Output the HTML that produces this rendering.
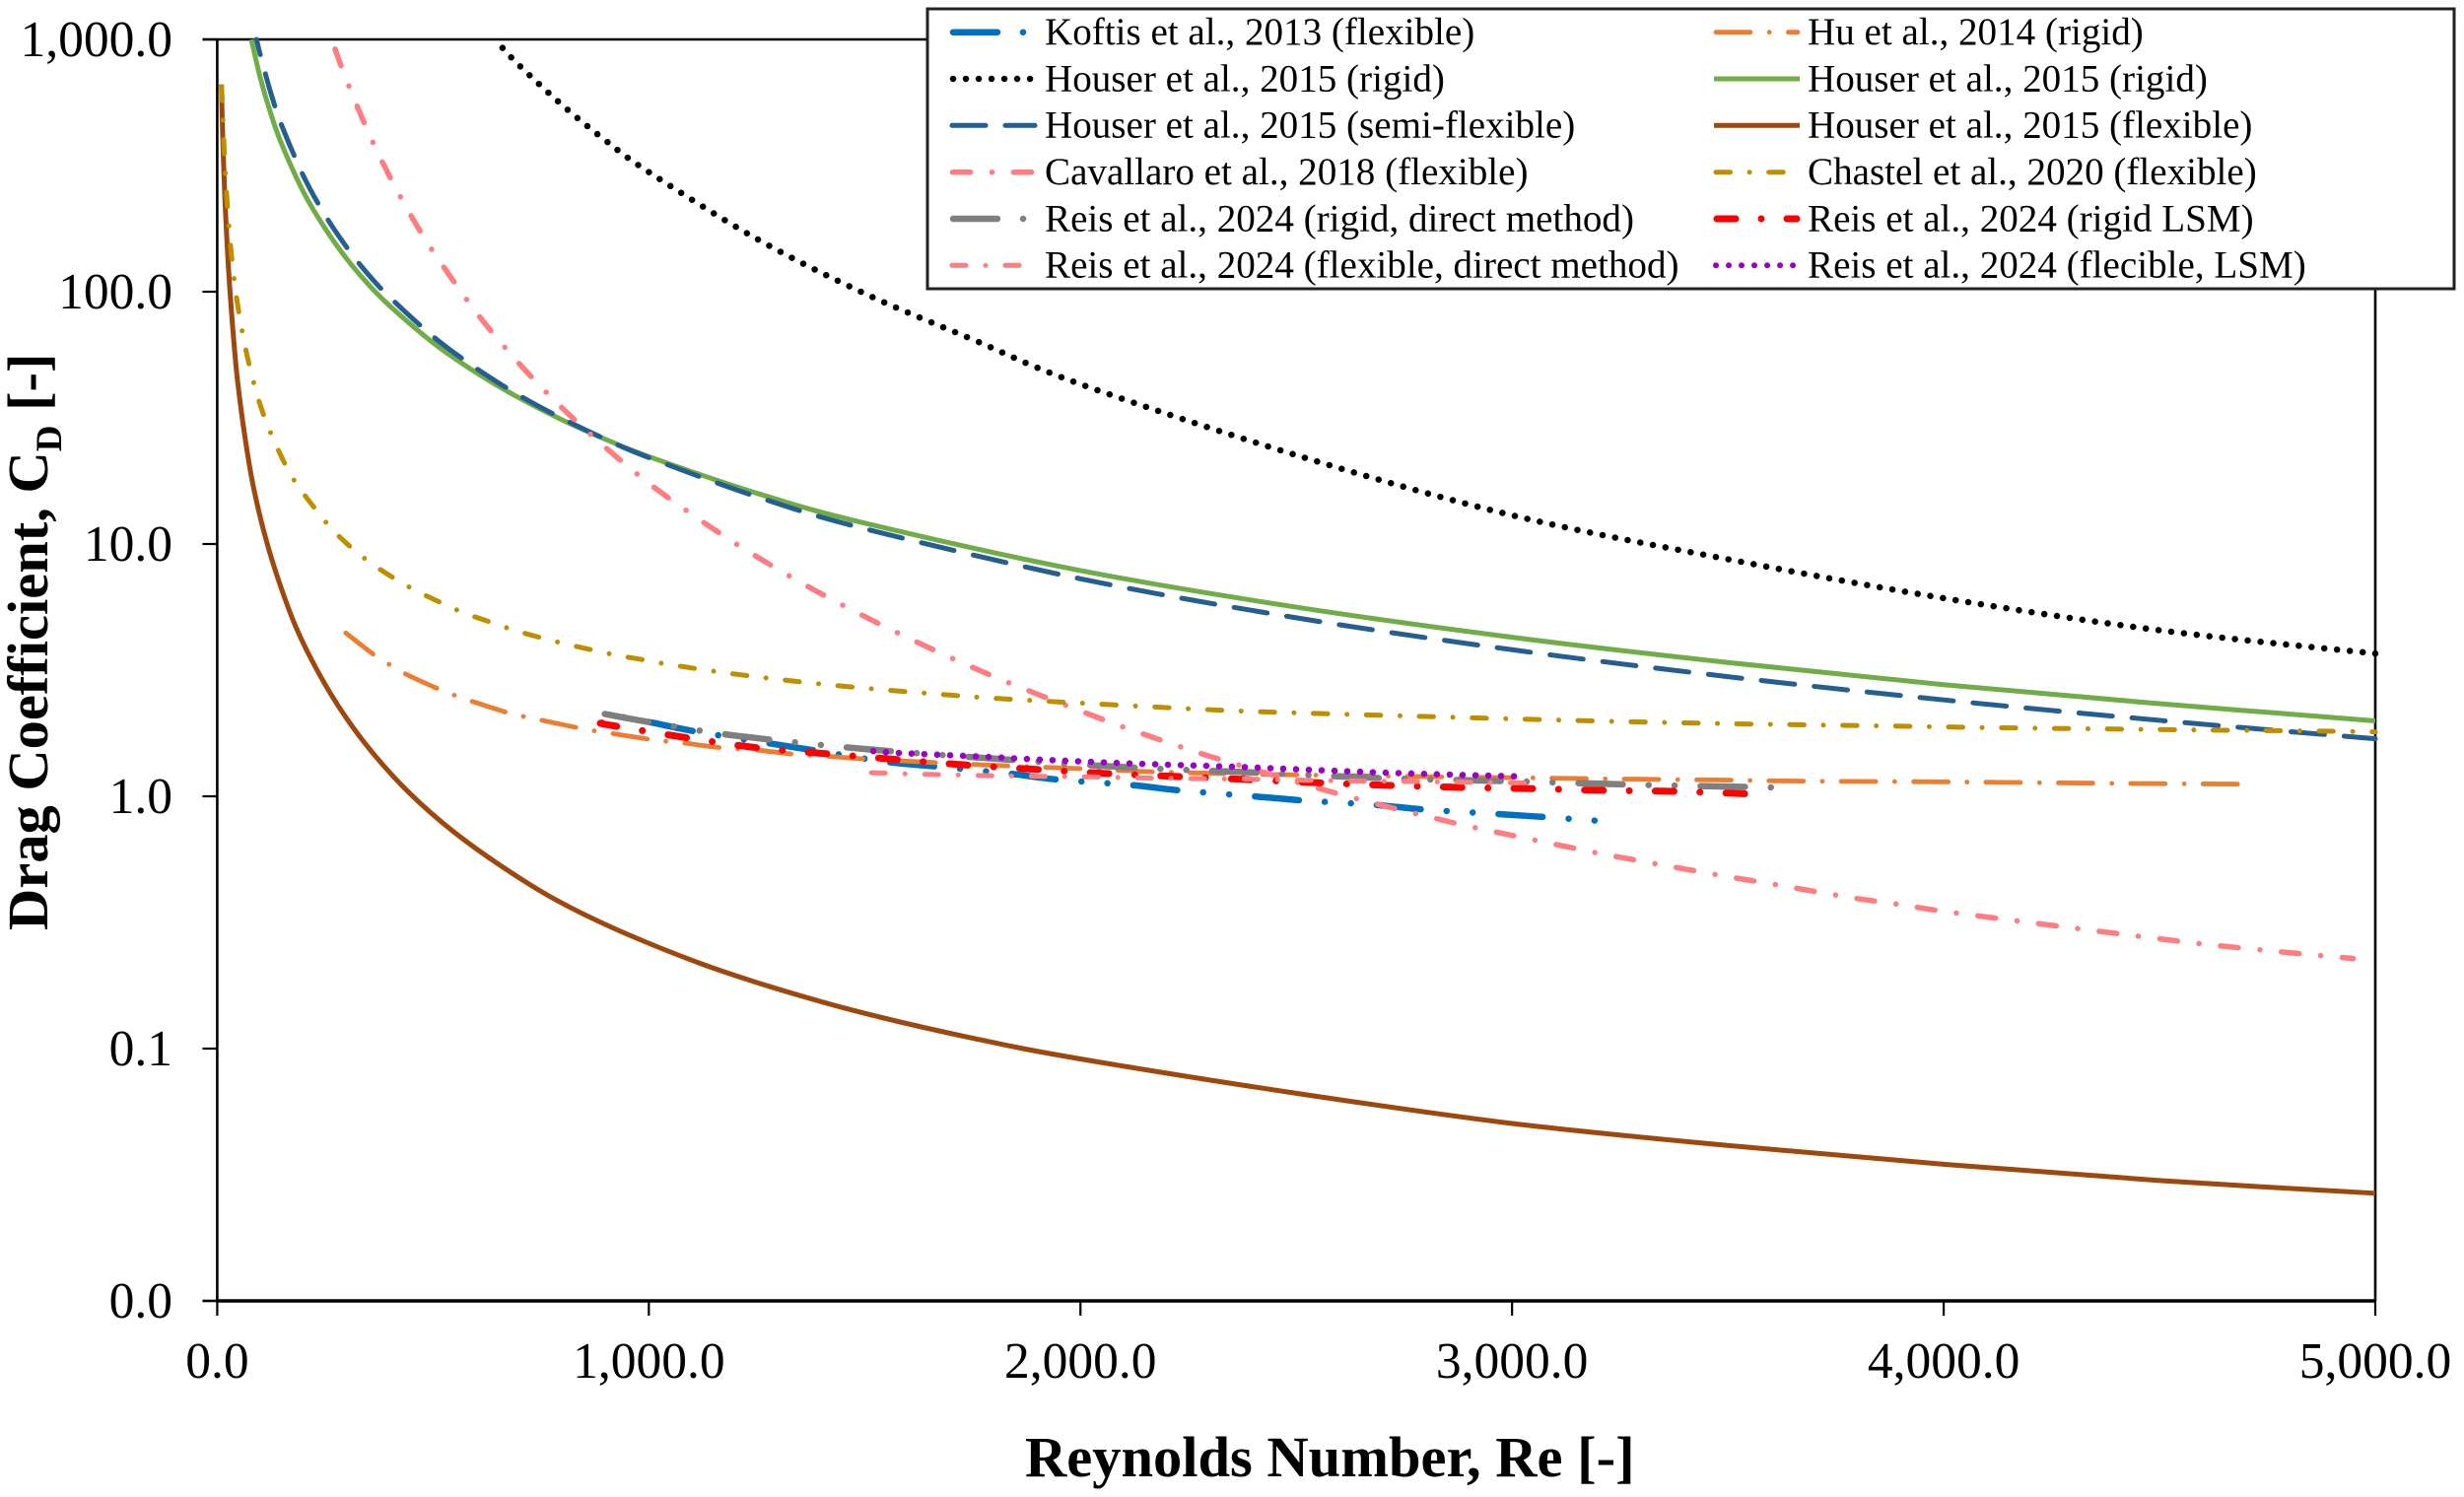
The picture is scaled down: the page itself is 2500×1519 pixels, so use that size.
<!DOCTYPE html>
<html lang="en">
<head>
<meta charset="utf-8">
<title>Drag Coefficient vs Reynolds Number</title>
<style>
html,body{margin:0;padding:0;background:#fff;}
svg{display:block;}
text{font-family:"Liberation Serif","Times New Roman",serif;fill:#000;}
.tick{font-size:51.5px;}
.title{font-size:58.5px;font-weight:bold;}
.leg{font-size:39.1px;}
</style>
</head>
<body>
<svg id="chart" xmlns="http://www.w3.org/2000/svg" width="2500" height="1519" viewBox="0 0 2500 1519">
  <rect x="0" y="0" width="2500" height="1519" fill="#fff"/>
  <g id="axes" stroke="#000" fill="none"></g>
  <g id="tick-labels"></g>

  <g fill="none" stroke-linecap="round" stroke-linejoin="round">
    <path id="s-koftis" stroke="#0070C0" stroke-width="6.5" stroke-dasharray="45 26.3 0.01 26.3 0.01 26.3" stroke-dashoffset="79"/>
    <path id="s-hu" stroke="#ED7D31" stroke-width="4.8" stroke-dasharray="35 19.2 0.01 19.2"/>
    <path id="s-houserBlack" stroke="#000" stroke-width="6.5" stroke-dasharray="0.01 13"/>
    <path id="s-houserGreen" stroke="#70AD47" stroke-width="5" stroke-linecap="butt"/>
    <path id="s-houserSemi" stroke="#255E91" stroke-width="5" stroke-dasharray="34 20" stroke-dashoffset="18"/>
    <path id="s-houserBrown" stroke="#9E480E" stroke-width="5" stroke-linecap="butt"/>
    <path id="s-cavallaro" stroke="#FF7C80" stroke-width="5.5" stroke-dasharray="18 22 0.01 22"/>
    <path id="s-chastel" stroke="#BF8F00" stroke-width="5" stroke-dasharray="14.5 19.6 0.01 19.6"/>
    <path id="s-reisRigid" stroke="#7F7F7F" stroke-width="6.5" stroke-dasharray="45 26.3 0.01 26.3 0.01 26.3"/>
    <path id="s-reisRigidLsm" stroke="#FF0000" stroke-width="7" stroke-dasharray="19 26.35 0.01 26.35"/>
    <path id="s-reisFlex" stroke="#FF7C80" stroke-width="5" stroke-dasharray="14 20 0.01 20"/>
    <path id="s-reisFlexLsm" stroke="#9900CC" stroke-width="6.5" stroke-dasharray="0.01 13"/>
  </g>

  <text class="title" x="1040" y="1498">Reynolds Number, Re [-]</text>
  <text class="title" transform="translate(48,944) rotate(-90)" x="0" y="0">Drag Coefficient, C<tspan font-size="37" dy="14">D</tspan><tspan dy="-14"> [-]</tspan></text>

  <g>
    <rect x="941" y="9" width="1549" height="284" fill="#fff" stroke="#222" stroke-width="3"/>
    <g fill="none" stroke-linecap="round">
      <line x1="967" x2="1047" y1="32.7" y2="32.7" stroke="#0070C0" stroke-width="6.5" stroke-dasharray="45 26 0.01 26 0.01 26"/>
      <line x1="967" x2="1047" y1="80" y2="80" stroke="#000" stroke-width="6.5" stroke-dasharray="0.01 13"/>
      <line x1="966" x2="1050" y1="127.3" y2="127.3" stroke="#255E91" stroke-width="5" stroke-dasharray="34 20"/>
      <line x1="966.5" x2="1047" y1="174.7" y2="174.7" stroke="#FF7C80" stroke-width="5.5" stroke-dasharray="18 22 0.01 22"/>
      <line x1="967" x2="1047" y1="222" y2="222" stroke="#7F7F7F" stroke-width="6.5" stroke-dasharray="45 26 0.01 26 0.01 26"/>
      <line x1="966" x2="1037" y1="269.3" y2="269.3" stroke="#FF7C80" stroke-width="5" stroke-dasharray="14 20 0.01 20"/>
      <line x1="1741" x2="1824" y1="32.7" y2="32.7" stroke="#ED7D31" stroke-width="4.8" stroke-dasharray="35 19.2 0.01 19.2"/>
      <line x1="1739" x2="1826" y1="80" y2="80" stroke="#70AD47" stroke-width="5" stroke-linecap="butt"/>
      <line x1="1739" x2="1826" y1="127.3" y2="127.3" stroke="#9E480E" stroke-width="5" stroke-linecap="butt"/>
      <line x1="1741" x2="1811" y1="174.7" y2="174.7" stroke="#BF8F00" stroke-width="5" stroke-dasharray="14.5 19.6 0.01 19.6"/>
      <line x1="1742" x2="1823" y1="222" y2="222" stroke="#FF0000" stroke-width="7" stroke-dasharray="19 26 0.01 26"/>
      <line x1="1741" x2="1824" y1="269.3" y2="269.3" stroke="#9900CC" stroke-width="6" stroke-dasharray="0.01 13"/>
    </g>
    <text class="leg" x="1060" y="45">Koftis et al., 2013 (flexible)</text>
    <text class="leg" x="1060" y="92.3">Houser et al., 2015 (rigid)</text>
    <text class="leg" x="1060" y="139.6">Houser et al., 2015 (semi-flexible)</text>
    <text class="leg" x="1060" y="187">Cavallaro et al., 2018 (flexible)</text>
    <text class="leg" x="1060" y="234.3">Reis et al., 2024 (rigid, direct method)</text>
    <text class="leg" x="1060" y="281.6">Reis et al., 2024 (flexible, direct method)</text>
    <text class="leg" x="1834" y="45">Hu et al., 2014 (rigid)</text>
    <text class="leg" x="1834" y="92.3">Houser et al., 2015 (rigid)</text>
    <text class="leg" x="1834" y="139.6">Houser et al., 2015 (flexible)</text>
    <text class="leg" x="1834" y="187">Chastel et al., 2020 (flexible)</text>
    <text class="leg" x="1834" y="234.3">Reis et al., 2024 (rigid LSM)</text>
    <text class="leg" x="1834" y="281.6">Reis et al., 2024 (flecible, LSM)</text>
  </g>
</svg>
<script>
const xTickValues = [0, 1000, 2000, 3000, 4000, 5000];
const xTickLabels = ["0.0", "1,000.0", "2,000.0", "3,000.0", "4,000.0", "5,000.0"];
const yTickValues = [1000, 100, 10, 1, 0.1, 0.01];
const yTickLabels = ["1,000.0", "100.0", "10.0", "1.0", "0.1", "0.0"];

const koftisRe = [900,1007,1106,1275,1387,1549,1671,1835,1947,2120,2231,2400,2518,2682,2801,2965,3082,3198];
const koftisCd = [2.12,1.96,1.81,1.625,1.517,1.37,1.31,1.23,1.165,1.107,1.055,1.0,0.962,0.925,0.885,0.851,0.826,0.80];

const huRe = [298,363,399,437,511,551,590,671,711,753,835,876,918,999,1042,1083,1168,1249,1334,1417,1502,1671,1840,2006,2173,2340,2510,2847,3180,3515,3685,4020,4400,4700];
const huCd = [4.44,3.64,3.33,3.05,2.67,2.51,2.38,2.15,2.07,2.0,1.87,1.815,1.77,1.685,1.65,1.625,1.558,1.526,1.47,1.44,1.407,1.358,1.318,1.286,1.25,1.23,1.215,1.194,1.175,1.158,1.148,1.14,1.125,1.117];

const houserBlackRe = [661,700,800,900,1000,1250,1500,1750,2000,2500,3000,3500,4000,4500,5000];
const houserBlackCd = [925,788,548,397,298,162,98.4,64.7,43,22.5,13,8.7,6.1,4.55,3.68];

const houserGreenRe = [79,100,125,150,200,250,300,350,400,500,600,700,800,900,1000,1250,1500,2000,2500,3000,3500,4000,4500,5000];
const houserGreenCd = [1000,702,502,382,248,178,135,107,87.8,62.8,47.8,37.9,31.0,26.0,22.2,15.9,12.1,7.85,5.62,4.27,3.39,2.77,2.33,1.99];

const houserSemiRe = [91,100,125,150,200,250,300,350,400,500,600,700,800,900,1000,1250,1500,2000,2500,3000,3500,4000,4500,5000];
const houserSemiCd = [1000,866,607,453,287,201,150,117,95,66.5,49.7,38.8,31.4,26,22,15.4,11.5,7.28,5.1,3.81,2.98,2.41,2.0,1.69];

const houserBrownRe = [9.6,12,15,20,30,47,75,102,136,182,235,296,364,448,547,661,783,928,1118,1300,1500,1750,2000,2500,3000,3500,4000,4500,5000];
const houserBrownCd = [663,456,313,193,98,44.5,20.3,12.3,7.72,4.7,3.08,2.08,1.46,1.02,0.725,0.525,0.39,0.295,0.218,0.172,0.138,0.11,0.091,0.0665,0.0505,0.0413,0.0348,0.03,0.0267];

const cavallaroRe = [273,300,350,400,450,500,600,700,800,900,1000,1100,1200,1300,1400,1500,1600,1700,1800,1900,2000,2100,2200,2300,2400,2500,2600,2700,2800,2900,3000,3100,3200,3300,3400,3500,3600,3700,3800,3900,4000,4200,4400,4600,4800,4949];
const cavallaroCd = [915,686,429,285,199,144.5,82.9,51.8,34.5,24.1,17.4,13.1,10.07,7.92,6.34,5.16,4.25,3.54,2.98,2.54,2.18,1.88,1.64,1.44,1.28,1.14,1.02,0.92,0.835,0.76,0.70,0.645,0.595,0.553,0.515,0.48,0.45,0.42,0.393,0.372,0.35,0.316,0.286,0.26,0.24,0.2275];

const chastelRe = [10,11.4,16.6,23.7,34,50,74.5,108,156,187,224,262,307,354,406,459,514,571,629,687,746,806,867,926,986,1047,1169,1291,1413,1536,1658,1778,1904,2149,2395,2764,3134,3503,3872,4118,4364,4610,4855,5000];
const chastelCd = [650,583,350,217,134,83,51,32.3,20.9,17.0,14,11.65,9.8,8.45,7.38,6.55,5.9,5.34,4.93,4.56,4.27,4.02,3.81,3.62,3.48,3.33,3.1,2.92,2.77,2.65,2.55,2.46,2.39,2.27,2.17,2.08,2.0,1.94,1.90,1.87,1.85,1.83,1.815,1.80];

const reisRigidRe = [898,1007,1200,1500,1800,2100,2400,2700,3000,3300,3610];
const reisRigidCd = [2.12,1.96,1.74,1.54,1.41,1.305,1.243,1.18,1.147,1.11,1.084];

const reisRigidLsmRe = [892,905,1080,1247,1410,1572,1736,1899,2064,2228,2392,2557,2721,2885,3048,3212,3377,3565];
const reisRigidLsmCd = [1.95,1.92,1.715,1.56,1.475,1.40,1.33,1.278,1.23,1.197,1.164,1.13,1.104,1.084,1.072,1.055,1.046,1.02];

const reisFlexRe = [1516,1648,1780,1906,2025,2147,2270,2394,2521,2646,2767,2892,3030];
const reisFlexCd = [1.24,1.222,1.208,1.2,1.194,1.183,1.175,1.169,1.158,1.15,1.145,1.137,1.13];

const reisFlexLsmRe = [1520,1580,1794,1896,2140,2354,2563,2771,3011];
const reisFlexLsmCd = [1.51,1.485,1.43,1.40,1.345,1.31,1.267,1.23,1.2];

const SVGNS = "http://www.w3.org/2000/svg";
const plotLeft = 220.4, plotRight = 2410, plotTop = 40, plotBottom = 1320;
const xMin = 0, xMax = 5000, yMinLog = -2, yMaxLog = 3;

function xScale(re) {
  return plotLeft + (re - xMin) / (xMax - xMin) * (plotRight - plotLeft);
}
function yScale(cd) {
  return plotBottom - (Math.log10(cd) - yMinLog) / (yMaxLog - yMinLog) * (plotBottom - plotTop);
}
function curvePath(res, cds) {
  const p = res.map(function (r, i) { return [xScale(r), yScale(cds[i])]; });
  let d = "M" + p[0][0].toFixed(2) + " " + p[0][1].toFixed(2);
  for (let i = 0; i < p.length - 1; i++) {
    const a = p[Math.max(i - 1, 0)], b = p[i], c = p[i + 1], e = p[Math.min(i + 2, p.length - 1)];
    const c1x = b[0] + (c[0] - a[0]) / 6, c1y = b[1] + (c[1] - a[1]) / 6;
    const c2x = c[0] - (e[0] - b[0]) / 6, c2y = c[1] - (e[1] - b[1]) / 6;
    d += "C" + c1x.toFixed(2) + " " + c1y.toFixed(2) + " " + c2x.toFixed(2) + " " + c2y.toFixed(2) + " " + c[0].toFixed(2) + " " + c[1].toFixed(2);
  }
  return d;
}

document.getElementById("s-koftis").setAttribute("d", curvePath(koftisRe, koftisCd));
document.getElementById("s-hu").setAttribute("d", curvePath(huRe, huCd));
document.getElementById("s-houserBlack").setAttribute("d", curvePath(houserBlackRe, houserBlackCd));
document.getElementById("s-houserGreen").setAttribute("d", curvePath(houserGreenRe, houserGreenCd));
document.getElementById("s-houserSemi").setAttribute("d", curvePath(houserSemiRe, houserSemiCd));
document.getElementById("s-houserBrown").setAttribute("d", curvePath(houserBrownRe, houserBrownCd));
document.getElementById("s-cavallaro").setAttribute("d", curvePath(cavallaroRe, cavallaroCd));
document.getElementById("s-chastel").setAttribute("d", curvePath(chastelRe, chastelCd));
document.getElementById("s-reisRigid").setAttribute("d", curvePath(reisRigidRe, reisRigidCd));
document.getElementById("s-reisRigidLsm").setAttribute("d", curvePath(reisRigidLsmRe, reisRigidLsmCd));
document.getElementById("s-reisFlex").setAttribute("d", curvePath(reisFlexRe, reisFlexCd));
document.getElementById("s-reisFlexLsm").setAttribute("d", curvePath(reisFlexLsmRe, reisFlexLsmCd));

const axes = document.getElementById("axes");
const tickLabels = document.getElementById("tick-labels");

function axisLine(name, x1, y1, x2, y2, w) {
  const l = document.createElementNS(SVGNS, "line");
  l.setAttribute("x1", x1);
  l.setAttribute("y1", y1);
  l.setAttribute("x2", x2);
  l.setAttribute("y2", y2);
  l.setAttribute("stroke-width", w);
  
  
  axes.appendChild(l);
}
axisLine("y-axis-line", plotLeft, plotTop, plotLeft, plotBottom, 2.6);
axisLine("right-axis-line", plotRight, plotTop, plotRight, plotBottom, 2.6);
axisLine("top-axis-line", plotLeft, plotTop, plotRight, plotTop, 2.6);
axisLine("x-axis-line", plotLeft, plotBottom, plotRight, plotBottom, 3.4);

xTickValues.forEach(function (v, i) {
  const x = xScale(v);
  axisLine("x-tick", x, plotBottom, x, 1335, 2.2);
  const t = document.createElementNS(SVGNS, "text");
  t.setAttribute("class", "tick");
  t.setAttribute("x", x);
  t.setAttribute("y", 1398);
  t.setAttribute("text-anchor", "middle");
  
  
  t.textContent = xTickLabels[i];
  tickLabels.appendChild(t);
});
yTickValues.forEach(function (v, i) {
  const y = yScale(v);
  axisLine("y-tick", 205.5, y, plotLeft, y, i === 0 || i === yTickValues.length - 1 ? 2.6 : 2.2);
  const t = document.createElementNS(SVGNS, "text");
  t.setAttribute("class", "tick");
  t.setAttribute("x", 175);
  t.setAttribute("y", y + 17);
  t.setAttribute("text-anchor", "end");
  
  
  t.textContent = yTickLabels[i];
  tickLabels.appendChild(t);
});
</script>
</body>
</html>
